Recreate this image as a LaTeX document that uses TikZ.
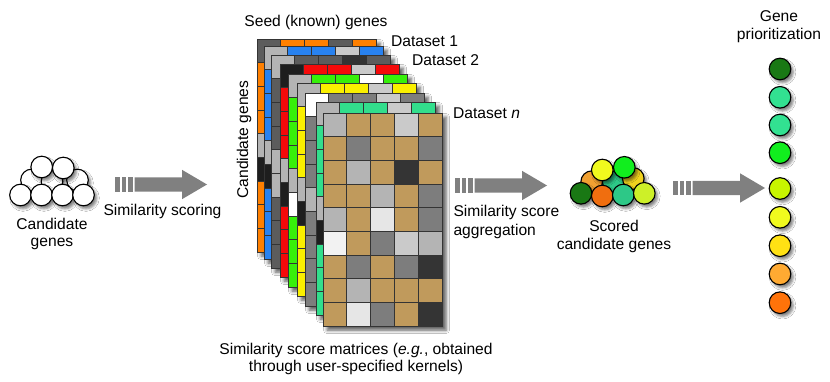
\documentclass[tikz,border=0pt]{standalone}
\usepackage{fontspec}
\setmainfont{Liberation Sans}
\usetikzlibrary{shadows.blur}

\definecolor{cA}{RGB}{92,92,92}
\definecolor{cB}{RGB}{180,180,180}
\definecolor{cC}{RGB}{202,202,202}
\definecolor{cD}{RGB}{125,125,125}
\definecolor{cE}{RGB}{230,230,230}
\definecolor{cF}{RGB}{242,242,242}
\definecolor{cK}{RGB}{30,30,30}
\definecolor{cK2}{RGB}{52,52,52}
\definecolor{cW}{RGB}{255,255,255}
\definecolor{orng}{RGB}{255,128,0}
\definecolor{blu}{RGB}{40,130,240}
\definecolor{rd}{RGB}{245,10,10}
\definecolor{grn}{RGB}{55,240,10}
\definecolor{ylw}{RGB}{250,240,0}
\definecolor{teal}{RGB}{50,222,140}
\definecolor{brn}{RGB}{192,154,92}
\definecolor{arrowgray}{RGB}{128,128,128}
\definecolor{gDark}{RGB}{25,120,20}
\definecolor{gTeal}{RGB}{50,225,145}
\definecolor{gTealB}{RGB}{45,200,135}
\definecolor{gGreen}{RGB}{17,238,30}
\definecolor{gYG}{RGB}{200,245,0}
\definecolor{gYG2}{RGB}{205,240,40}
\definecolor{gYel}{RGB}{240,250,30}
\definecolor{gGold}{RGB}{255,225,20}
\definecolor{gGold2}{RGB}{240,210,30}
\definecolor{gLOr}{RGB}{255,170,50}
\definecolor{gLOr2}{RGB}{240,160,50}
\definecolor{gOr}{RGB}{255,115,10}
\definecolor{gOr2}{RGB}{240,110,15}

\tikzset{
  lbl/.style={font=\fontsize{15.6}{#1}\selectfont, inner sep=0pt, text=black},
  lbl/.default=16,
  cell/.style={draw=cK2, line width=0.8pt},
  layerbase/.style={fill=cB, blur shadow={shadow xshift=4pt, shadow yshift=-4pt, shadow blur radius=3.5pt, shadow opacity=65}},
  gene/.style={circle, draw=black, line width=1.1pt, minimum size=21.6pt, inner sep=0pt,
     blur shadow={shadow xshift=2.5pt, shadow yshift=-3pt, shadow blur radius=2.5pt, shadow opacity=50}},
  blockarrow/.pic={
    \fill[arrowgray] (0,-7.2) rectangle (4.5,7.2);
    \fill[arrowgray] (6.5,-7.2) rectangle (11,7.2);
    \fill[arrowgray] (13,-7.2) rectangle (17.5,7.2);
    \fill[arrowgray] (19.5,-7.2) -- (67,-7.2) -- (67,-14.7) -- (92,0) -- (67,14.7) -- (67,7.2) -- (19.5,7.2) -- cycle;
  }
}

\newcommand\stacklayer[4]{%
  \fill[layerbase] (#1,#2) rectangle ++(119,213);
  \foreach \cc [count=\i from 0] in {#3}{\filldraw[cell,fill=\cc] ({#1+\i*23.8},#2) rectangle ++(23.8,23.667);}
  \foreach \cc [count=\j from 0] in {#4}{\filldraw[cell,fill=\cc] (#1,{#2+\j*23.667}) rectangle ++(23.8,23.667);}
}

\begin{document}
\begin{tikzpicture}[x=1pt,y=-1pt]
\useasboundingbox (0,0) rectangle (830,382);
\fill[white] (0,0) rectangle (830,382);

% ---- candidate genes cluster
\node[gene,fill=white] (w5) at (31.5,180) {};
\node[gene,fill=white] (w6) at (52,181.5) {};
\node[gene,fill=white] (w7) at (77.5,180) {};
\node[gene,fill=white] (w8) at (41.7,167) {};
\node[gene,fill=white] (w9) at (63.3,168) {};
\node[gene,fill=white] (w1) at (20.5,195) {};
\node[gene,fill=white] (w2) at (41.5,195) {};
\node[gene,fill=white] (w3) at (62.5,195) {};
\node[gene,fill=white] (w4) at (83.5,195) {};
\node[lbl=17.5, align=center, anchor=base] (candtxt) at (52,247) {Candidate\\genes};

% ---- arrow 1
\coordinate (arrA) at (115,184.5);
\pic at (arrA) {blockarrow};
\node[lbl, anchor=base] (simscore) at (162.5,215) {Similarity scoring};

% ---- stack of matrices
\stacklayer{257}{39}{cA,orng,orng,cA,orng}{cA,orng,orng,orng,cB,cK,orng,orng,orng}
\stacklayer{264}{46}{cB,blu,blu,cC,blu}{cB,blu,blu,blu,cB,cK,blu,blu,blu}
\stacklayer{271}{55}{cB,cA,cA,cK2,cA}{cB,cA,cA,cA,cB,cB,cA,cA,cA}
\stacklayer{280}{64}{cK,rd,rd,cC,rd}{cK,rd,rd,rd,cB,cK,rd,rd,rd}
\stacklayer{288}{74}{cB,grn,grn,cW,grn}{cB,grn,grn,grn,cB,cW,grn,grn,grn}
\stacklayer{297}{83}{cB,ylw,ylw,cC,ylw}{cB,ylw,ylw,ylw,cB,cK,ylw,ylw,ylw}
\stacklayer{305}{93}{cW,cD,cD,cC,cD}{cW,cD,cD,cD,cB,cD,cD,cD,cD}
\stacklayer{316}{102}{cB,teal,teal,cC,teal}{cB,teal,teal,teal,cB,cK,teal,teal,teal}
\fill[layerbase] (323,113) rectangle ++(119,213);
\foreach \row [count=\j from 0] in {
  {cB,brn,brn,cC,brn},
  {brn,cD,brn,brn,cD},
  {brn,cB,brn,cK2,brn},
  {brn,brn,cB,brn,cD},
  {cB,brn,cE,brn,cD},
  {cF,brn,cD,cC,cB},
  {brn,cD,brn,cD,cK2},
  {brn,cB,brn,brn,brn},
  {brn,cE,cD,brn,cK2}}{
  \foreach \cc [count=\i from 0] in \row {
    \filldraw[cell,fill=\cc] ({323+\i*23.8},{113+\j*23.667}) rectangle ++(23.8,23.667);
  }
}

\node[lbl, anchor=base] (seed) at (316,26.5) {Seed (known) genes};
\node[lbl, anchor=base west] (ds1) at (391,46.7) {Dataset 1};
\node[lbl, anchor=base west] (ds2) at (412,65.5) {Dataset 2};
\node[lbl, anchor=base west] (dsn) at (453,118.5) {Dataset \textit{n}};
\node[lbl, anchor=base, rotate=90] (candrot) at (248,139.5) {Candidate genes};
\node[lbl=17, align=center, anchor=base] (caption) at (356,371) {Similarity score matrices (\textit{e.g.}, obtained\\through user-specified kernels)};

% ---- arrow 2
\coordinate (arrB) at (455,185.5);
\pic at (arrB) {blockarrow};
\node[lbl=19, align=left, anchor=base west] (aggr) at (453.3,235.7) {Similarity score\\aggregation};

% ---- scored cluster
\node[gene,fill=gLOr2] (s5) at (591.7,181.7) {};
\node[gene,fill=gTealB] (s6) at (613.3,182) {};
\node[gene,fill=gGold2] (s7) at (633.3,178.5) {};
\node[gene,fill=gYel] (s8) at (602.3,170) {};
\node[gene,fill=gGreen] (s9) at (624.3,167.3) {};
\node[gene,fill=gDark] (s1) at (581,193.3) {};
\node[gene,fill=gOr2] (s2) at (602.3,196) {};
\node[gene,fill=gTealB] (s3) at (623.3,195) {};
\node[gene,fill=gYG2] (s4) at (644.3,193.3) {};
\node[lbl=17.5, align=center, anchor=base] (scored) at (614,249) {Scored\\candidate genes};

% ---- arrow 3
\coordinate (arrC) at (673,188);
\pic at (arrC) {blockarrow};

% ---- prioritized list
\node[lbl=18, align=center, anchor=base] (prio) at (779,39.7) {Gene\\prioritization};
\node[gene,fill=gDark] (p1) at (780,69) {};
\node[gene,fill=gTeal] (p2) at (780,97.3) {};
\node[gene,fill=gTeal] (p3) at (780,125) {};
\node[gene,fill=gGreen] (p4) at (780,152.7) {};
\node[gene,fill=gYG] (p5) at (780,188.5) {};
\node[gene,fill=gYel] (p6) at (780,217.3) {};
\node[gene,fill=gGold] (p7) at (780,245.7) {};
\node[gene,fill=gLOr] (p8) at (780,274) {};
\node[gene,fill=gOr] (p9) at (780,302.7) {};
\end{tikzpicture}
\end{document}
